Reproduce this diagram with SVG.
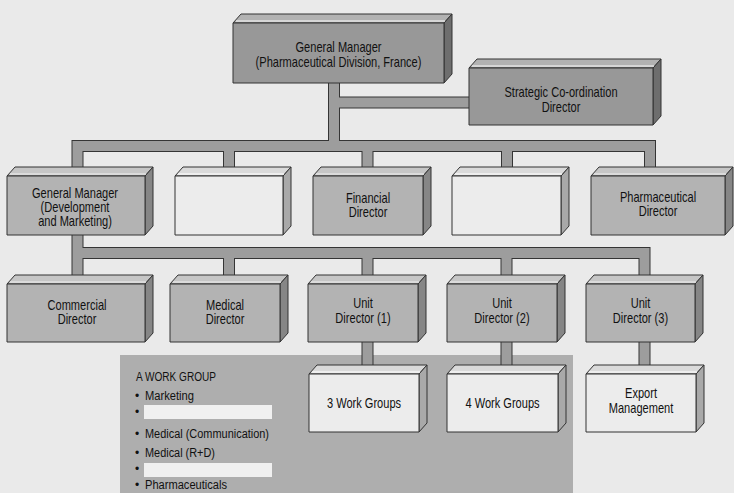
<svg xmlns="http://www.w3.org/2000/svg" width="734" height="493" viewBox="0 0 734 493">
<style>
.bg{fill:#eaeaea}
.ln{stroke:#333;stroke-width:1;stroke-linejoin:round}
.dk .f{fill:#989898}.dk .t{fill:#b2b2b2}.dk .s{fill:#6e6e6e}
.md .f{fill:#b3b3b3}.md .t{fill:#c6c6c6}.md .s{fill:#868686}
.lt .f{fill:#ececec}.lt .t{fill:#dadada}.lt .s{fill:#a9a9a9}
.hl{stroke:#e2e2e2;stroke-width:1.5;fill:none}
.co-o{fill:none;stroke:#353535;stroke-width:12;stroke-linejoin:miter;stroke-linecap:butt}
.co-i{fill:none;stroke:#9d9d9d;stroke-width:10;stroke-linejoin:miter;stroke-linecap:butt}
.lbl{font-family:"Liberation Sans",Arial,sans-serif;font-size:14px;fill:#111;text-anchor:middle}
.wg{font-family:"Liberation Sans",Arial,sans-serif;font-size:12px;fill:#111}
</style>
<rect class="bg" x="0" y="0" width="734" height="493"/>

<g id="work-group-panel">
<rect x="120" y="355" width="453" height="138" fill="#aeaeae"/>
<rect x="144" y="405" width="128" height="14" fill="#f0f0f0"/>
<rect x="144" y="463" width="128" height="14" fill="#f0f0f0"/>
<text class="wg" x="136" y="381" textLength="80" lengthAdjust="spacingAndGlyphs">A WORK GROUP</text>
<text class="wg" x="135" y="400">•</text>
<text class="wg" x="145" y="400" textLength="49" lengthAdjust="spacingAndGlyphs">Marketing</text>
<text class="wg" x="135" y="416">•</text>
<text class="wg" x="135" y="438">•</text>
<text class="wg" x="145" y="438" textLength="124" lengthAdjust="spacingAndGlyphs">Medical (Communication)</text>
<text class="wg" x="135" y="457">•</text>
<text class="wg" x="145" y="457" textLength="70" lengthAdjust="spacingAndGlyphs">Medical (R+D)</text>
<text class="wg" x="135" y="473">•</text>
<text class="wg" x="135" y="489">•</text>
<text class="wg" x="145" y="489" textLength="82" lengthAdjust="spacingAndGlyphs">Pharmaceuticals</text>
</g>

<g id="connectors">
<path class="co-o" d="M334,83 V146 M334,102.5 H469 M77.5,177 V146 H650 V177 M229,146 V177 M367.5,146 V177 M507,146 V177 M77.5,235 V253 H644.5 V285 M77.5,253 V285 M229,253 V285 M367.5,253 V285 M506.5,253 V285 M367.5,342 V375 M506.5,342 V374 M644.5,342 V374"/>
<path class="co-i" d="M334,83 V146 M334,102.5 H469 M77.5,177 V146 H650 V177 M229,146 V177 M367.5,146 V177 M507,146 V177 M77.5,235 V253 H644.5 V285 M77.5,253 V285 M229,253 V285 M367.5,253 V285 M506.5,253 V285 M367.5,342 V375 M506.5,342 V374 M644.5,342 V374"/>
</g>

<g id="gm-pharma" class="dk">
<polygon class="t ln" points="233,23 241,14 452,14 444,23"/>
<polygon class="s ln" points="444,23 452,14 452,74 444,83"/>
<rect class="f ln" x="233" y="23" width="211" height="60"/>
<line class="hl" x1="236" y1="21" x2="445" y2="21"/>
<text class="lbl" transform="translate(338.5 0) scale(0.79 1)"><tspan x="0" y="52">General Manager</tspan><tspan x="0" y="67">(Pharmaceutical Division, France)</tspan></text>
</g>

<g id="strategic" class="dk">
<polygon class="t ln" points="469,68 477,59 661,59 653,68"/>
<polygon class="s ln" points="653,68 661,59 661,116 653,125"/>
<rect class="f ln" x="469" y="68" width="184" height="57"/>
<line class="hl" x1="472" y1="66" x2="654" y2="66"/>
<text class="lbl" transform="translate(561 0) scale(0.79 1)"><tspan x="0" y="97">Strategic Co-ordination</tspan><tspan x="0" y="112">Director</tspan></text>
</g>

<g id="gm-dev" class="md">
<polygon class="t ln" points="7,176 15,167 153,167 145,176"/>
<polygon class="s ln" points="145,176 153,167 153,226 145,235"/>
<rect class="f ln" x="7" y="176" width="138" height="59"/>
<line class="hl" x1="10" y1="174" x2="146" y2="174"/>
<text class="lbl" transform="translate(75 0) scale(0.79 1)"><tspan x="0" y="198">General Manager</tspan><tspan x="0" y="212">(Development</tspan><tspan x="0" y="226">and Marketing)</tspan></text>
</g>

<g id="blank-1" class="lt">
<polygon class="t ln" points="175,176 183,167 291,167 283,176"/>
<polygon class="s ln" points="283,176 291,167 291,226 283,235"/>
<rect class="f ln" x="175" y="176" width="108" height="59"/>
<line class="hl" x1="178" y1="174" x2="284" y2="174" style="stroke:#f4f4f4"/>
</g>

<g id="financial" class="md">
<polygon class="t ln" points="313,176 321,167 431,167 423,176"/>
<polygon class="s ln" points="423,176 431,167 431,226 423,235"/>
<rect class="f ln" x="313" y="176" width="110" height="59"/>
<line class="hl" x1="316" y1="174" x2="424" y2="174"/>
<text class="lbl" transform="translate(368 0) scale(0.79 1)"><tspan x="0" y="203">Financial</tspan><tspan x="0" y="217">Director</tspan></text>
</g>

<g id="blank-2" class="lt">
<polygon class="t ln" points="452,176 460,167 569,167 561,176"/>
<polygon class="s ln" points="561,176 569,167 569,226 561,235"/>
<rect class="f ln" x="452" y="176" width="109" height="59"/>
<line class="hl" x1="455" y1="174" x2="562" y2="174" style="stroke:#f4f4f4"/>
</g>

<g id="pharma-dir" class="md">
<polygon class="t ln" points="591,176 599,167 733,167 725,176"/>
<polygon class="s ln" points="725,176 733,167 733,226 725,235"/>
<rect class="f ln" x="591" y="176" width="134" height="59"/>
<line class="hl" x1="594" y1="174" x2="726" y2="174"/>
<text class="lbl" transform="translate(658 0) scale(0.79 1)"><tspan x="0" y="202">Pharmaceutical</tspan><tspan x="0" y="216">Director</tspan></text>
</g>

<g id="commercial" class="md">
<polygon class="t ln" points="7,284 15,275 153,275 145,284"/>
<polygon class="s ln" points="145,284 153,275 153,333 145,342"/>
<rect class="f ln" x="7" y="284" width="138" height="58"/>
<line class="hl" x1="10" y1="282" x2="146" y2="282"/>
<text class="lbl" transform="translate(77 0) scale(0.79 1)"><tspan x="0" y="310">Commercial</tspan><tspan x="0" y="324">Director</tspan></text>
</g>

<g id="medical" class="md">
<polygon class="t ln" points="170,284 178,275 288,275 280,284"/>
<polygon class="s ln" points="280,284 288,275 288,333 280,342"/>
<rect class="f ln" x="170" y="284" width="110" height="58"/>
<line class="hl" x1="173" y1="282" x2="281" y2="282"/>
<text class="lbl" transform="translate(225 0) scale(0.79 1)"><tspan x="0" y="310">Medical</tspan><tspan x="0" y="324">Director</tspan></text>
</g>

<g id="unit-1" class="md">
<polygon class="t ln" points="308,284 316,275 426,275 418,284"/>
<polygon class="s ln" points="418,284 426,275 426,333 418,342"/>
<rect class="f ln" x="308" y="284" width="110" height="58"/>
<line class="hl" x1="311" y1="282" x2="419" y2="282"/>
<text class="lbl" transform="translate(363 0) scale(0.79 1)"><tspan x="0" y="308">Unit</tspan><tspan x="0" y="323">Director (1)</tspan></text>
</g>

<g id="unit-2" class="md">
<polygon class="t ln" points="447,284 455,275 565,275 557,284"/>
<polygon class="s ln" points="557,284 565,275 565,333 557,342"/>
<rect class="f ln" x="447" y="284" width="110" height="58"/>
<line class="hl" x1="450" y1="282" x2="558" y2="282"/>
<text class="lbl" transform="translate(502 0) scale(0.79 1)"><tspan x="0" y="308">Unit</tspan><tspan x="0" y="323">Director (2)</tspan></text>
</g>

<g id="unit-3" class="md">
<polygon class="t ln" points="586,284 594,275 703,275 695,284"/>
<polygon class="s ln" points="695,284 703,275 703,333 695,342"/>
<rect class="f ln" x="586" y="284" width="109" height="58"/>
<line class="hl" x1="589" y1="282" x2="696" y2="282"/>
<text class="lbl" transform="translate(640.5 0) scale(0.79 1)"><tspan x="0" y="308">Unit</tspan><tspan x="0" y="323">Director (3)</tspan></text>
</g>

<g id="work-groups-3" class="lt">
<polygon class="t ln" points="309,374 317,365 427,365 419,374"/>
<polygon class="s ln" points="419,374 427,365 427,423 419,432"/>
<rect class="f ln" x="309" y="374" width="110" height="58"/>
<line class="hl" x1="312" y1="372" x2="420" y2="372" style="stroke:#f4f4f4"/>
<text class="lbl" transform="translate(364 0) scale(0.79 1)"><tspan x="0" y="408">3 Work Groups</tspan></text>
</g>

<g id="work-groups-4" class="lt">
<polygon class="t ln" points="447,374 455,365 566,365 558,374"/>
<polygon class="s ln" points="558,374 566,365 566,423 558,432"/>
<rect class="f ln" x="447" y="374" width="111" height="58"/>
<line class="hl" x1="450" y1="372" x2="559" y2="372" style="stroke:#f4f4f4"/>
<text class="lbl" transform="translate(502.5 0) scale(0.79 1)"><tspan x="0" y="408">4 Work Groups</tspan></text>
</g>

<g id="export" class="lt">
<polygon class="t ln" points="586,374 594,365 704,365 696,374"/>
<polygon class="s ln" points="696,374 704,365 704,423 696,432"/>
<rect class="f ln" x="586" y="374" width="110" height="58"/>
<line class="hl" x1="589" y1="372" x2="697" y2="372" style="stroke:#f4f4f4"/>
<text class="lbl" transform="translate(641 0) scale(0.79 1)"><tspan x="0" y="398">Export</tspan><tspan x="0" y="413">Management</tspan></text>
</g>
</svg>
